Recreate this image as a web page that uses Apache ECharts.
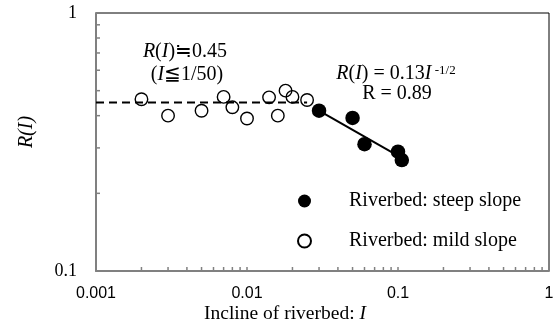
<!DOCTYPE html>
<html>
<head>
<meta charset="utf-8">
<script src="https://cdn.jsdelivr.net/npm/echarts@6/dist/echarts.min.js"></script>
<style>html,body{margin:0;padding:0;background:#fff}#c{width:557px;height:326px}</style>
</head>
<body>
<div id="c"></div>
<script>
// ---- data ----
const mildX  = [0.002, 0.003, 0.005, 0.007, 0.008, 0.010, 0.014, 0.016, 0.018, 0.020, 0.025];
const mildY  = [0.463, 0.400, 0.418, 0.473, 0.431, 0.390, 0.471, 0.400, 0.500, 0.473, 0.460];
const steepX = [0.030, 0.050, 0.060, 0.100, 0.106];
const steepY = [0.418, 0.392, 0.310, 0.290, 0.269];
const flatLineX = [0.001, 0.025];
const flatLineY = [0.45, 0.45];
const fitLineX = [0.028, 0.103];
const fitLineY = [0.428, 0.277];
const xTickLabels = {0.001: '0.001', 0.01: '0.01', 0.1: '0.1', 1: '1'};
const yTickLabels = {0.1: '0.1', 1: '1'};
const xMinorTicks = [0.002,0.003,0.004,0.005,0.006,0.007,0.008,0.009,0.01,
                     0.02,0.03,0.04,0.05,0.06,0.07,0.08,0.09,0.1,
                     0.2,0.3,0.4,0.5,0.6,0.7,0.8,0.9];
const yMinorTicks = [0.2,0.3,0.4,0.5,0.6,0.7,0.8,0.9];
const seriesNames = ['Riverbed: steep slope', 'Riverbed: mild slope'];

const zip = (a, b) => a.map((v, i) => [v, b[i]]);
const SERIF = '"Liberation Serif", "Times New Roman", serif';
const SANS = '"Liberation Sans", Arial, sans-serif';
const FS = 20;

const chart = echarts.init(document.getElementById('c'), null, {renderer: 'canvas'});
const option = {
  animation: false,
  backgroundColor: '#fff',
  grid: {left: 96, right: 8, top: 13, bottom: 55, show: true, borderColor: '#000', borderWidth: 1, backgroundColor: 'transparent'},
  xAxis: {
    type: 'log', logBase: 10, min: 0.001, max: 1,
    axisLine: {show: true, lineStyle: {color: '#808080', width: 2}},
    axisTick: {show: false},
    splitLine: {show: false},
    axisLabel: {
      margin: 15, color: '#000', fontFamily: SANS, fontSize: 16,
      formatter: v => xTickLabels[+v.toPrecision(3)] || ''
    }
  },
  yAxis: {
    type: 'log', logBase: 10, min: 0.1, max: 1,
    axisLine: {show: true, lineStyle: {color: '#808080', width: 2}},
    axisTick: {show: false},
    splitLine: {show: false},
    axisLabel: {
      margin: 19, color: '#000', fontFamily: SERIF, fontSize: 18,
      formatter: v => yTickLabels[+v.toPrecision(3)] || ''
    }
  },
  legend: {
    data: [
      {name: seriesNames[0], icon: 'circle'},
      {name: seriesNames[1], icon: 'circle'}
    ],
    orient: 'vertical', left: 297, top: 191, padding: 0,
    itemGap: 20, itemWidth: 13, itemHeight: 13,
    textStyle: {fontFamily: SERIF, fontSize: FS, color: '#000', padding: [0, 0, 0, 33]}
  },
  series: [
    {
      type: 'scatter', silent: true, clip: false, symbol: 'rect',
      symbolSize: [1.5, 4], symbolOffset: [0, -2],
      itemStyle: {color: '#808080', opacity: 1},
      data: xMinorTicks.map(v => [v, 0.1]), z: 5
    },
    {
      type: 'scatter', silent: true, clip: false, symbol: 'rect',
      symbolSize: [4, 1.5], symbolOffset: [2, 0],
      itemStyle: {color: '#808080', opacity: 1},
      data: yMinorTicks.map(v => [0.001, v]), z: 5
    },
    {
      type: 'line', silent: true, symbol: 'none',
      lineStyle: {color: '#000', width: 2, type: [8, 5]},
      data: zip(flatLineX, flatLineY), z: 3
    },
    {
      type: 'line', silent: true, symbol: 'none',
      lineStyle: {color: '#000', width: 2},
      data: zip(fitLineX, fitLineY), z: 3
    },
    {
      name: seriesNames[1], type: 'scatter', symbol: 'circle', symbolSize: 12.5,
      itemStyle: {color: 'transparent', borderColor: '#000', borderWidth: 1.4, opacity: 1},
      data: zip(mildX, mildY), z: 4
    },
    {
      name: seriesNames[0], type: 'scatter', symbol: 'circle', symbolSize: 14.5,
      itemStyle: {color: '#000', opacity: 1},
      data: zip(steepX, steepY), z: 6
    }
  ],
  graphic: [
    {
      type: 'text', x: 185, y: 52, silent: true,
      style: {
        text: '{i|R}({i|I})≒0.45', align: 'center', verticalAlign: 'middle',
        font: FS + 'px ' + SERIF, fill: '#000',
        rich: {i: {fontStyle: 'italic', fontFamily: SERIF, fontSize: FS}}
      }
    },
    {
      type: 'text', x: 187, y: 75, silent: true,
      style: {
        text: '({i|I}≦1/50)', align: 'center', verticalAlign: 'middle',
        font: FS + 'px ' + SERIF, fill: '#000',
        rich: {i: {fontStyle: 'italic', fontFamily: SERIF, fontSize: FS}}
      }
    },
    {
      type: 'text', x: 396, y: 74, silent: true,
      style: {
        text: '{i|R}({i|I}) = 0.13{i|I}{sup| -1/2}', align: 'center', verticalAlign: 'middle',
        font: FS + 'px ' + SERIF, fill: '#000',
        rich: {
          i: {fontStyle: 'italic', fontFamily: SERIF, fontSize: FS},
          sup: {fontFamily: SERIF, fontSize: 13, verticalAlign: 'top'}
        }
      }
    },
    {
      type: 'text', x: 397, y: 94, silent: true,
      style: {text: 'R = 0.89', align: 'center', verticalAlign: 'middle', font: FS + 'px ' + SERIF, fill: '#000'}
    },
    {
      type: 'text', x: 27, y: 132, rotation: Math.PI / 2, silent: true,
      style: {text: 'R(I)', align: 'center', verticalAlign: 'middle', font: 'italic ' + FS + 'px ' + SERIF, fill: '#000'}
    },
    {
      type: 'text', x: 285, y: 314, silent: true,
      style: {
        text: 'Incline of riverbed: {i|I}', align: 'center', verticalAlign: 'middle',
        font: '19.5px ' + SERIF, fill: '#000',
        rich: {i: {fontStyle: 'italic', fontFamily: SERIF, fontSize: 19.5}}
      }
    }
  ]
};
chart.setOption(option);
</script>
</body>
</html>
